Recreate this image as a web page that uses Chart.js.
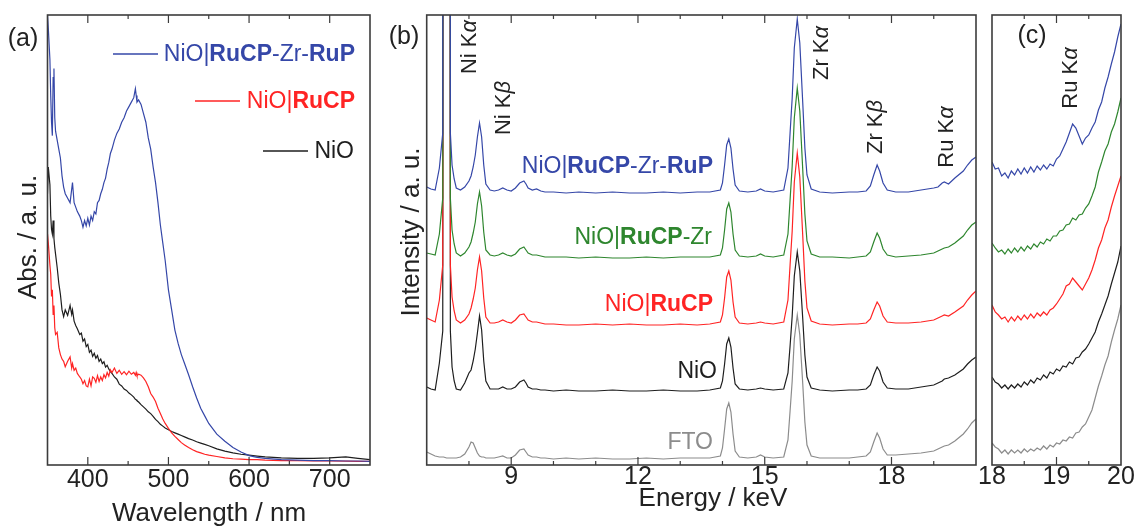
<!DOCTYPE html>
<html>
<head>
<meta charset="utf-8">
<script src="https://cdn.jsdelivr.net/npm/chart.js@4/dist/chart.umd.min.js"></script>
<style>
  body { margin: 0; background: #fff; }
  #wrap { position: relative; width: 1137px; height: 526px; overflow: hidden; }
  canvas { position: absolute; top: 0; }
</style>
</head>
<body>
<div id="wrap">
  <canvas id="chartA" width="380" height="526" style="left:0px"></canvas>
  <canvas id="chartB" width="600" height="526" style="left:380px"></canvas>
  <canvas id="chartC" width="177" height="526" style="left:960px"></canvas>
</div>
<script>
// ---------- panel (a): UV-vis absorbance ----------
const wavelengths = [
  350, 351, 353, 354, 355, 356, 357, 358, 359, 360,
  362, 364, 366, 368, 370, 372, 375, 378, 380, 381,
  383, 385, 387, 390, 392, 394, 396, 398, 400, 402,
  404, 406, 408, 410, 412, 414, 416, 418, 420, 422,
  424, 426, 428, 430, 433, 436, 439, 442, 445, 448,
  451, 454, 457, 459, 460, 461, 463, 466, 469, 472,
  475, 478, 481, 484, 487, 490, 493, 496, 500, 504,
  508, 512, 516, 520, 525, 530, 535, 540, 545, 550,
  560, 570, 580, 590, 600, 610, 620, 640, 660, 680,
  700, 720, 735, 750
];
const absRuCPZrRuP = [
  100, 97, 90, 82, 76, 73, 86, 88, 77, 74,
  72, 70, 68, 64, 61.5, 60, 59, 58, 61, 62.5,
  58, 57, 56, 55, 54, 52.5, 54, 52.8, 54.5, 53,
  55, 54, 56, 55.5, 58, 58.5, 60, 61, 62.5, 63.5,
  65.5, 67, 69, 70, 72, 73.5, 74.5, 76, 77, 78.5,
  79.5, 80.5, 81.5, 83.5, 82, 80.5, 81, 80, 78, 76,
  72.5, 70, 66, 62.5, 58, 53, 49, 45, 38.5, 34,
  29.5, 26.5, 24, 22, 19.5, 16.8, 14.3, 12, 10.3, 8.6,
  6.2, 4.6, 3.2, 2.2, 1.4, 1.0, 0.8, 0.5, 0.4, 0.3,
  0.3, 0.2, 0.2, 0.1
];
const absRuCP = [
  51, 49, 44, 42, 37, 38.5, 33, 35, 30, 28.5,
  29, 25.5, 24, 23, 22.5, 21.3, 22.5, 23.5, 21, 22,
  20.5, 21, 19.8, 19, 18.5, 17.5, 18.2, 17, 16.8, 18.5,
  17, 19, 18.7, 17.8, 19.3, 18, 19, 18.2, 19.5, 18.8,
  20, 19.2, 20.6, 20, 21, 19.8, 20.5, 19.6, 20.2, 19.5,
  20.3, 19.6, 20, 19.4, 20, 19.3, 19.6, 19.4, 18.8, 18,
  16.8, 15.3, 14.5, 13.5, 12, 10.8, 9.6, 8.6, 7.5, 6.5,
  5.7, 5, 4.3, 3.8, 3.2, 2.7, 2.3, 2, 1.7, 1.5,
  1.2, 0.9, 0.7, 0.6, 0.5, 0.5, 0.4, 0.3, 0.3, 0.2,
  0.2, 0.15, 0.1, 0.1
];
const absNiO = [
  60, 66, 62, 55, 52, 51, 54, 50, 48, 46.5,
  43.5, 40, 37.5, 34, 32.5, 34, 32.8, 35, 33, 34,
  31.5, 30.5, 29.8, 28.5, 28.8, 27, 27.5, 25.8, 26.3, 24.5,
  25, 23.6, 24.3, 23.2, 23.8, 22.5, 23, 22, 22.4, 21.2,
  21.6, 20.8, 20.2, 19.8, 19, 18.5, 17.4, 17, 16.3, 16,
  15.4, 15, 14.5, 14, 13.9, 13.7, 13.4, 12.8, 12.3, 11.8,
  11.2, 10.8, 10.2, 9.5, 9, 8.4, 8, 7.6, 7.2, 6.8,
  6.5, 6.2, 5.9, 5.6, 5.2, 4.9, 4.5, 4.2, 3.9, 3.6,
  2.9, 2.4, 2, 1.7, 1.5, 1.3, 1.1, 0.9, 0.8, 0.8,
  0.9, 1.1, 0.8, 0.5
];

// ---------- panel (b): XRF spectra, profiles above each baseline ----------
const energies = [
  7.0, 7.1, 7.2, 7.3, 7.38, 7.4, 7.47, 7.54, 7.56, 7.6, 7.65, 7.7,
  7.8, 7.9, 8.0, 8.05, 8.1, 8.15, 8.2, 8.25, 8.3, 8.35, 8.4,
  8.5, 8.6, 8.7, 8.8, 8.9, 9.0, 9.1, 9.2, 9.3, 9.35, 9.4, 9.5, 9.6, 9.7, 9.8,
  10.0, 10.3, 10.6, 11.0, 11.4, 11.8, 12.2, 12.6, 13.0, 13.4, 13.7,
  13.95, 14.0, 14.05, 14.1, 14.15, 14.2, 14.25, 14.3, 14.4,
  14.6, 14.8, 14.9, 15.0, 15.2,
  15.45, 15.55, 15.6, 15.65, 15.7, 15.77, 15.83, 15.9, 15.95, 16.0, 16.1,
  16.3, 16.6, 17.0, 17.2,
  17.4, 17.5, 17.58, 17.66, 17.72, 17.8, 17.9,
  18.1, 18.4, 18.7, 19.0, 19.1, 19.2, 19.25, 19.35, 19.5, 19.7, 19.8, 19.9, 20.0
];
const xrfRuCPZrRuP = [
  6, 4, 3, 25, 60, 2000, 4000, 2000, 60, 28, 14, 5,
  3, 6, 12, 17, 26, 38, 56, 70, 56, 28, 9,
  3, 2, 3, 5, 3, 2, 5, 10, 12, 9, 5, 3, 4, 2, 1,
  1, 0, 1, 0, 1, 0, 0, 1, 0, 1, 1,
  3, 10, 28, 48, 54, 45, 24, 8, 2,
  1, 2, 4, 2, 1,
  3, 25, 60, 95, 145, 174, 150, 90, 45, 18, 4,
  1, 0, 1, 1,
  2, 7, 18, 28, 22, 10, 3,
  1, 1, 3, 5, 6, 10, 11, 9, 15, 22, 28, 33, 36
];
const xrfRuCPZr = [
  5, 4, 3, 24, 60, 2000, 4000, 2000, 60, 28, 14, 5,
  2, 5, 11, 16, 25, 36, 54, 66, 52, 26, 8,
  3, 2, 3, 5, 3, 2, 4, 9, 11, 8, 5, 3, 3, 2, 1,
  1, 1, 0, 1, 0, 0, 1, 0, 1, 1, 1,
  3, 10, 28, 49, 55, 46, 24, 8, 2,
  1, 2, 4, 2, 1,
  3, 24, 58, 92, 140, 170, 147, 88, 44, 17, 4,
  1, 1, 0, 1,
  2, 6, 16, 25, 20, 9, 3,
  1, 2, 3, 5, 7, 9, 10, 11, 15, 22, 28, 33, 36
];
const xrfRuCP = [
  7, 5, 3, 25, 60, 2000, 4000, 2000, 60, 28, 14, 5,
  2, 5, 11, 17, 26, 37, 55, 68, 54, 27, 8,
  2, 2, 3, 5, 3, 2, 5, 10, 11, 8, 5, 3, 3, 2, 1,
  1, 0, 0, 1, 0, 1, 0, 0, 1, 0, 1,
  3, 10, 27, 48, 54, 45, 23, 8, 2,
  1, 2, 3, 2, 1,
  3, 25, 60, 94, 143, 172, 148, 89, 44, 17, 4,
  1, 0, 1, 1,
  2, 6, 15, 23, 19, 9, 3,
  2, 2, 3, 5, 7, 9, 10, 9, 13, 19, 25, 30, 34
];
const xrfNiO = [
  4, 2, 1, 28, 60, 2000, 4000, 2000, 60, 24, 10, 2,
  1, 8, 18, 21, 30, 42, 58, 75, 61, 30, 10,
  2, 2, 2, 4, 2, 2, 4, 9, 11, 8, 4, 2, 2, 1, 1,
  0, 1, 0, 0, 1, 0, 0, 1, 0, 0, 1,
  3, 10, 27, 47, 53, 44, 23, 7, 2,
  1, 2, 3, 2, 1,
  2, 18, 45, 75, 115, 139, 120, 72, 36, 14, 3,
  1, 0, 1, 1,
  2, 6, 16, 24, 20, 9, 3,
  2, 2, 4, 6, 8, 10, 12, 13, 16, 22, 27, 31, 34
];
const xrfFTO = [
  7, 5, 3, 2, 2, 2, 1, 1, 1, 1, 1, 1,
  2, 5, 12, 17, 16, 11, 6, 3, 2, 2, 1,
  1, 1, 2, 3, 1, 1, 4, 9, 10, 7, 4, 2, 2, 1, 1,
  0, 1, 0, 1, 0, 0, 1, 0, 1, 1, 1,
  3, 11, 30, 50, 56, 47, 25, 8, 2,
  1, 2, 4, 2, 1,
  2, 19, 48, 78, 120, 144, 124, 75, 37, 14, 3,
  1, 1, 1, 2,
  3, 7, 17, 26, 21, 10, 4,
  4, 5, 6, 8, 10, 12, 13, 14, 18, 25, 30, 36, 40
];
// vertical stacking: RuCP-Zr-RuP, RuCP-Zr, RuCP, NiO, FTO
const stackOffsets = [269, 204, 137, 71, 3];

// ---------- panel (c): 18-20 keV close-up (already stacked) ----------
const energiesZoom = [
  18.00, 18.05, 18.10, 18.15, 18.20, 18.25, 18.30, 18.35, 18.40, 18.45,
  18.50, 18.55, 18.60, 18.65, 18.70, 18.75, 18.80, 18.85, 18.90, 18.95,
  19.00, 19.05, 19.10, 19.15, 19.20, 19.25, 19.30, 19.35, 19.40, 19.45,
  19.50, 19.55, 19.60, 19.65, 19.70, 19.75, 19.80, 19.85, 19.90, 19.95, 20.00
];
const zoomRuCPZrRuP = [
  300, 293, 294, 286, 289, 284, 291, 287, 293, 288,
  294, 289, 295, 290, 296, 292, 297, 293, 298, 296,
  303, 306, 313, 320, 329, 338, 334, 326, 318, 324,
  327, 334, 340, 352, 360, 374, 385, 398, 410, 425, 438
];
const zoomRuCPZr = [
  219, 214, 210, 212, 208, 213, 209, 214, 210, 215,
  211, 216, 213, 218, 215, 220, 218, 223, 221, 226,
  226, 231, 232, 237, 238, 244, 242, 247, 248, 254,
  258, 266, 275, 290, 300, 311, 318, 330, 338, 350, 364
];
const zoomRuCP = [
  157, 150, 147, 143, 145, 140, 145, 141, 146, 142,
  147, 143, 148, 144, 149, 146, 150, 147, 152, 154,
  158, 163, 168, 176, 178, 184, 180, 176, 172, 178,
  184, 192, 202, 214, 222, 234, 242, 255, 266, 276, 286
];
const zoomNiO = [
  85, 80, 78, 74, 77, 73, 77, 74, 78, 75,
  80, 77, 82, 79, 84, 82, 87, 84, 90, 88,
  93, 91, 96, 95, 100, 98, 104, 105, 110, 113,
  118, 124, 130, 140, 148, 157, 166, 178, 189, 200, 216
];
const zoomFTO = [
  19, 15, 13, 9, 12, 8, 12, 9, 12, 9,
  13, 10, 13, 11, 14, 12, 16, 13, 17, 15,
  19, 18, 22, 21, 25, 24, 29, 30, 35, 38,
  45, 52, 64, 76, 86, 97, 106, 120, 132, 143, 157
];

const tickLabelsA = [400, 500, 600, 700];
const tickLabelsB = [9, 12, 15, 18];
const tickLabelsC = [18, 19, 20];

const fontFam = '"Liberation Sans", Arial, Helvetica, sans-serif';
const cBlue = '#3547a8', cRed = '#ff2424', cGreen = '#2e862e', cBlack = '#1e1e1e', cGray = '#8c8c8c';
const txt = '#222222';

function drawRuns(ctx, t) {
  const fontFor = st => (st === 'b' ? 'bold ' : st === 'i' ? 'italic ' : '') + t.size + 'px ' + fontFam;
  let total = 0;
  t.runs.forEach(([s, st]) => { ctx.font = fontFor(st); total += ctx.measureText(s).width; });
  ctx.save();
  ctx.translate(t.x, t.y);
  if (t.rot) ctx.rotate(-Math.PI / 2);
  let x = t.align === 'right' ? -total : (t.align === 'left' ? 0 : -total / 2);
  ctx.fillStyle = t.color || txt;
  ctx.textBaseline = 'middle';
  ctx.textAlign = 'left';
  t.runs.forEach(([s, st]) => {
    ctx.font = fontFor(st);
    ctx.fillText(s, x, 0);
    x += ctx.measureText(s).width;
  });
  ctx.restore();
}

// frame, inward ticks on top and bottom, and the text annotations
const decor = {
  id: 'decor',
  afterDraw(chart, args, opts) {
    const {ctx, chartArea: a} = chart;
    const xs = chart.scales.x;
    ctx.save();
    ctx.strokeStyle = '#3c3c3c';
    ctx.lineWidth = 1.2;
    xs.ticks.forEach(t => {
      const px = xs.getPixelForValue(t.value);
      if (px <= a.left + 1 || px >= a.right - 1) return;
      const len = t.label !== '' ? 8 : 4;
      ctx.beginPath();
      ctx.moveTo(px, a.bottom); ctx.lineTo(px, a.bottom - len);
      ctx.moveTo(px, a.top); ctx.lineTo(px, a.top + len);
      ctx.stroke();
    });
    ctx.lineWidth = 1.6;
    ctx.strokeRect(a.left, a.top, a.right - a.left, a.bottom - a.top);
    ctx.translate(-opts.ox, 0);
    (opts.keys || []).forEach(k => {
      ctx.strokeStyle = k.color;
      ctx.lineWidth = 1.3;
      ctx.beginPath();
      ctx.moveTo(k.x1, k.y); ctx.lineTo(k.x2, k.y);
      ctx.stroke();
    });
    (opts.texts || []).forEach(t => drawRuns(ctx, t));
    ctx.restore();
  }
};

function line(xs, ys, shift, color) {
  return {
    data: xs.map((x, i) => ({x: x, y: ys[i] + shift})),
    borderColor: color, borderWidth: 1.2, pointRadius: 0, tension: 0, fill: false
  };
}

function makeOptions(xMin, xMax, step, labels, yMin, yMax, pad, tickPad, decorOpts) {
  return {
    responsive: false, animation: false, devicePixelRatio: 1,
    layout: {padding: pad},
    plugins: {legend: {display: false}, tooltip: {enabled: false}, decor: decorOpts},
    scales: {
      x: {
        type: 'linear', min: xMin, max: xMax,
        grid: {display: false, drawTicks: false},
        border: {display: false},
        ticks: {
          stepSize: step, autoSkip: false, maxRotation: 0, padding: tickPad, color: txt,
          font: {family: fontFam, size: 25, lineHeight: 1},
          callback: v => {
            const l = labels.find(n => Math.abs(n - v) < 1e-6);
            return l === undefined ? '' : String(l);
          }
        },
        afterFit: s => { s.height = 61; s.paddingLeft = 0; s.paddingRight = 0; }
      },
      y: {display: false, min: yMin, max: yMax}
    }
  };
}

const bold = 'b', ital = 'i';
const fullLabel = [['NiO|', ''], ['RuCP', bold], ['-Zr-', ''], ['RuP', bold]];

new Chart(document.getElementById('chartA'), {
  type: 'line',
  data: {datasets: [
    line(wavelengths, absRuCPZrRuP, 0, cBlue),
    line(wavelengths, absRuCP, 0, cRed),
    line(wavelengths, absNiO, 0, cBlack)
  ]},
  options: makeOptions(350, 750, 50, tickLabelsA, -0.7, 100,
    {left: 47.5, right: 10, top: 15, bottom: 0}, 3, {
      ox: 0,
      keys: [
        {x1: 113, x2: 158, y: 54, color: cBlue},
        {x1: 195, x2: 240, y: 101, color: cRed},
        {x1: 263, x2: 308, y: 151, color: cBlack}
      ],
      texts: [
        {x: 23, y: 39, size: 25, runs: [['(a)', '']]},
        {x: 355, y: 55, size: 23, align: 'right', color: cBlue, runs: fullLabel},
        {x: 355, y: 102, size: 23, align: 'right', color: cRed, runs: [['NiO|', ''], ['RuCP', bold]]},
        {x: 354, y: 152, size: 23, align: 'right', color: cBlack, runs: [['NiO', '']]},
        {x: 29, y: 237, size: 26, rot: true, runs: [['Abs. / a. u.', '']]},
        {x: 209, y: 514, size: 26, runs: [['Wavelength / nm', '']]}
      ]
    }),
  plugins: [decor]
});

new Chart(document.getElementById('chartB'), {
  type: 'line',
  data: {datasets: [
    line(energies, xrfRuCPZrRuP, stackOffsets[0], cBlue),
    line(energies, xrfRuCPZr, stackOffsets[1], cGreen),
    line(energies, xrfRuCP, stackOffsets[2], cRed),
    line(energies, xrfNiO, stackOffsets[3], cBlack),
    line(energies, xrfFTO, stackOffsets[4], cGray)
  ]},
  options: makeOptions(7, 20, 1, tickLabelsB, -3, 447,
    {left: 46.7, right: 4, top: 15, bottom: 0}, 0, {
      ox: 380,
      texts: [
        {x: 404, y: 37, size: 25, runs: [['(b)', '']]},
        {x: 470, y: 47, size: 22, rot: true, runs: [['Ni K', ''], ['\u03b1', ital]]},
        {x: 504, y: 108, size: 22, rot: true, runs: [['Ni K', ''], ['\u03b2', ital]]},
        {x: 822, y: 53, size: 22, rot: true, runs: [['Zr K', ''], ['\u03b1', ital]]},
        {x: 876, y: 127, size: 22, rot: true, runs: [['Zr K', ''], ['\u03b2', ital]]},
        {x: 947, y: 137, size: 22, rot: true, runs: [['Ru K', ''], ['\u03b1', ital]]},
        {x: 713, y: 167, size: 23, align: 'right', color: cBlue, runs: fullLabel},
        {x: 712, y: 238, size: 23, align: 'right', color: cGreen, runs: [['NiO|', ''], ['RuCP', bold], ['-Zr', '']]},
        {x: 713, y: 305, size: 23, align: 'right', color: cRed, runs: [['NiO|', ''], ['RuCP', bold]]},
        {x: 717, y: 372, size: 23, align: 'right', color: cBlack, runs: [['NiO', '']]},
        {x: 713, y: 443, size: 23, align: 'right', color: cGray, runs: [['FTO', '']]},
        {x: 412, y: 232, size: 26, rot: true, runs: [['Intensity / a. u.', '']]},
        {x: 713, y: 499, size: 26, runs: [['Energy / keV', '']]}
      ]
    }),
  plugins: [decor]
});

new Chart(document.getElementById('chartC'), {
  type: 'line',
  data: {datasets: [
    line(energiesZoom, zoomRuCPZrRuP, 0, cBlue),
    line(energiesZoom, zoomRuCPZr, 0, cGreen),
    line(energiesZoom, zoomRuCP, 0, cRed),
    line(energiesZoom, zoomNiO, 0, cBlack),
    line(energiesZoom, zoomFTO, 0, cGray)
  ]},
  options: makeOptions(18, 20, 0.5, tickLabelsC, -3, 447,
    {left: 32, right: 16, top: 15, bottom: 0}, 0, {
      ox: 960,
      texts: [
        {x: 1032, y: 36, size: 25, runs: [['(c)', '']]},
        {x: 1071, y: 78, size: 22, rot: true, runs: [['Ru K', ''], ['\u03b1', ital]]}
      ]
    }),
  plugins: [decor]
});
</script>
</body>
</html>
